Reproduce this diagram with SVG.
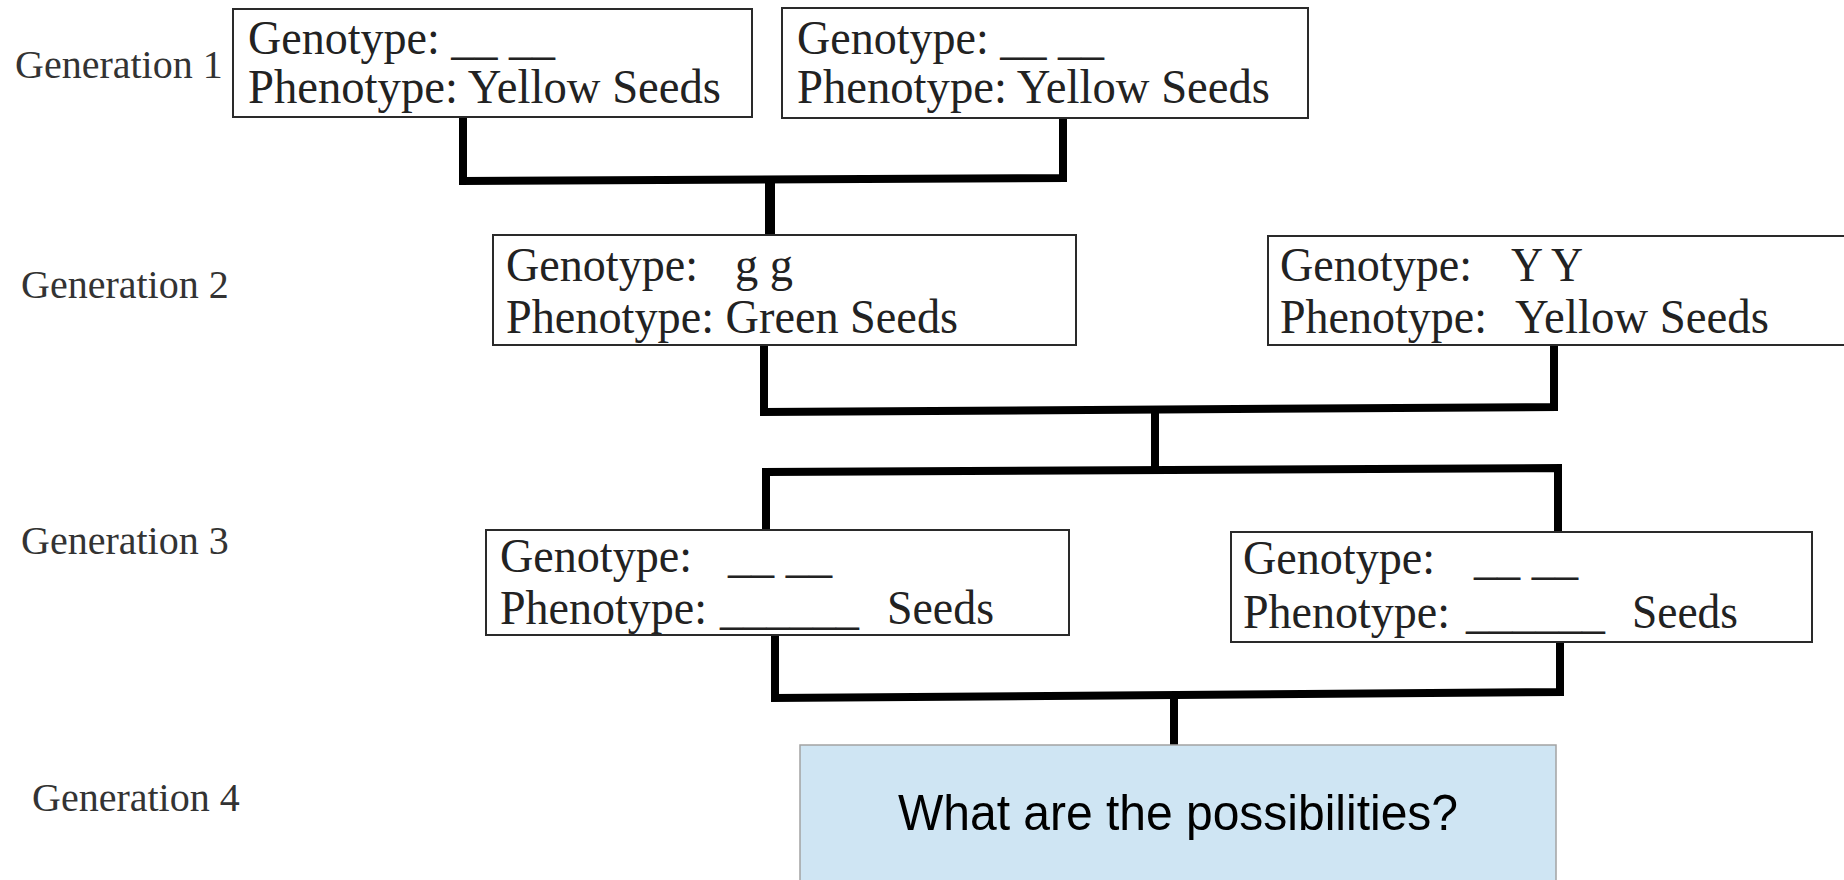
<svg xmlns="http://www.w3.org/2000/svg" width="1844" height="880" viewBox="0 0 1844 880">
<style>
.box{fill:#fff;stroke:#2a2a2a;stroke-width:2}
.t{font-family:"Liberation Serif","Times New Roman",serif;font-size:49px;fill:#222}
.gen{font-family:"Liberation Serif","Times New Roman",serif;font-size:40px;fill:#333}
.q{font-family:"Liberation Sans",Arial,sans-serif;font-size:50px;fill:#000}
.c{fill:none;stroke:#000;stroke-width:8;stroke-linejoin:miter;stroke-linecap:square}
</style>
<rect width="1844" height="880" fill="#fff"/>
<g id="labels">
<text class="gen" x="15" y="78">Generation 1</text>
<text class="gen" x="21" y="298">Generation 2</text>
<text class="gen" x="21" y="554">Generation 3</text>
<text class="gen" x="32" y="811">Generation 4</text>
</g>
<g id="connectors">
<path class="c" d="M463,121 V181 L1063,178 V121"/>
<path class="c" d="M770,181 V236" style="stroke-width:10;stroke-linecap:butt"/>
<path class="c" d="M764,349 V412 L1554,407 V349"/>
<path class="c" d="M1155,410 V470" style="stroke-linecap:butt"/>
<path class="c" d="M766,527 V472 L1558,468 V527"/>
<path class="c" d="M775,639 V698 L1560,692 V646"/>
<path class="c" d="M1174,695 V745" style="stroke-linecap:butt"/>
</g>
<g id="g1-left">
<rect class="box" x="233" y="9" width="519" height="108"/>
<text class="t" x="248" y="54" textLength="307" lengthAdjust="spacingAndGlyphs">Genotype: __ __</text>
<text class="t" x="248" y="103" textLength="473" lengthAdjust="spacingAndGlyphs">Phenotype: Yellow Seeds</text>
</g>
<g id="g1-right">
<rect class="box" x="782" y="8" width="526" height="110"/>
<text class="t" x="797" y="54" textLength="307" lengthAdjust="spacingAndGlyphs">Genotype: __ __</text>
<text class="t" x="797" y="103" textLength="473" lengthAdjust="spacingAndGlyphs">Phenotype: Yellow Seeds</text>
</g>
<g id="g2-left">
<rect class="box" x="493" y="235" width="583" height="110"/>
<text class="t" y="281"><tspan x="506" textLength="192" lengthAdjust="spacingAndGlyphs">Genotype:</tspan><tspan x="735" textLength="58" lengthAdjust="spacingAndGlyphs">g g</tspan></text>
<text class="t" x="506" y="333" textLength="452" lengthAdjust="spacingAndGlyphs">Phenotype: Green Seeds</text>
</g>
<g id="g2-right">
<rect class="box" x="1268" y="236" width="590" height="109"/>
<text class="t" y="281"><tspan x="1280" textLength="192" lengthAdjust="spacingAndGlyphs">Genotype:</tspan><tspan x="1511" textLength="72" lengthAdjust="spacingAndGlyphs">Y Y</tspan></text>
<text class="t" y="333"><tspan x="1280" textLength="207" lengthAdjust="spacingAndGlyphs">Phenotype:</tspan><tspan x="1515" textLength="254" lengthAdjust="spacingAndGlyphs">Yellow Seeds</tspan></text>
</g>
<g id="g3-left">
<rect class="box" x="486" y="530" width="583" height="105"/>
<text class="t" y="572"><tspan x="500" textLength="192" lengthAdjust="spacingAndGlyphs">Genotype:</tspan><tspan x="728" textLength="104" lengthAdjust="spacingAndGlyphs">__ __</tspan></text>
<text class="t" y="624"><tspan x="500" textLength="207" lengthAdjust="spacingAndGlyphs">Phenotype:</tspan><tspan x="720" textLength="139" lengthAdjust="spacingAndGlyphs">______</tspan><tspan x="887" textLength="107" lengthAdjust="spacingAndGlyphs">Seeds</tspan></text>
</g>
<g id="g3-right">
<rect class="box" x="1231" y="532" width="581" height="110"/>
<text class="t" y="574"><tspan x="1243" textLength="192" lengthAdjust="spacingAndGlyphs">Genotype:</tspan><tspan x="1474" textLength="104" lengthAdjust="spacingAndGlyphs">__ __</tspan></text>
<text class="t" y="628"><tspan x="1243" textLength="207" lengthAdjust="spacingAndGlyphs">Phenotype:</tspan><tspan x="1466" textLength="139" lengthAdjust="spacingAndGlyphs">______</tspan><tspan x="1632" textLength="106" lengthAdjust="spacingAndGlyphs">Seeds</tspan></text>
</g>
<g id="g4">
<rect x="800" y="745" width="756" height="140" fill="#cfe5f3" stroke="#a3a3a3" stroke-width="1.5"/>
<text class="q" x="1178" y="830" text-anchor="middle" textLength="560" lengthAdjust="spacingAndGlyphs">What are the possibilities?</text>
</g>
</svg>
